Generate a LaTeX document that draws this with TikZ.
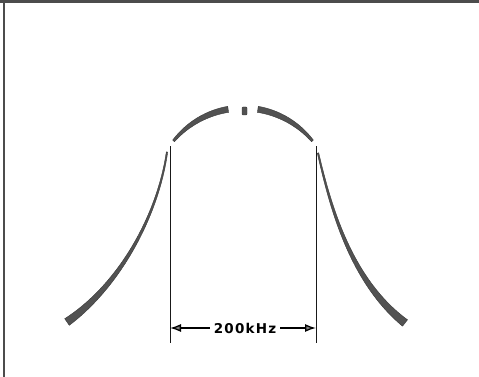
\documentclass[tikz,border=0pt]{standalone}
\usepackage{fontspec}
\newfontfamily\lblfont[LetterSpace=9]{DejaVu Sans Bold}
\usetikzlibrary{arrows.meta,calc}

\begin{document}
\begin{tikzpicture}[x=1pt,y=-1pt,>={Latex[length=11pt,width=8pt,fill=black!50]},
  band/.style={fill=black!68,draw=black!78,line width=0.4pt},
  guide/.style={draw=black!90,line width=0.9pt}]
\useasboundingbox (0,0) rectangle (479,377);
\coordinate (ctr) at (243,193);
\coordinate (ctrin) at (243,203.4);

\draw[black!70,line width=3pt] (0,1.5) -- (479,1.5);
\draw[black!70,line width=2pt] (4,0) -- (4,377);

\coordinate (Ltop) at (170,146);
\coordinate (Lbot) at (170,343);
\coordinate (Rtop) at (316,146);
\coordinate (Rbot) at (316,343);
\draw[guide] (Ltop) -- (Lbot);
\draw[guide] (Rtop) -- (Rbot);

% top of the curve
\fill[band] ($(ctr)+(-143:88)$) arc[start angle=-143,end angle=-100,radius=88]
  -- ($(ctrin)+(-99:92.2)$) arc[start angle=-99,end angle=-138,radius=92.2] -- cycle;
\fill[band] ($(ctr)+(-80:88)$) arc[start angle=-80,end angle=-37,radius=88]
  -- ($(ctrin)+(-42:92.2)$) arc[start angle=-42,end angle=-81,radius=92.2] -- cycle;
\fill[band,rounded corners=1pt] (242,107) rectangle (247,115);

% skirts
\fill[band] (166.3,151.9) .. controls (157.06,214.67) and (118.78,283.96) .. (64.7,318.7)
  -- (69.3,325.3) .. controls (121.22,286.04) and (158.94,215.33) .. (167.7,152.1) -- cycle;
\fill[band] (318.7,152.8) .. controls (330.97,204.76) and (351.68,278.92) .. (407.5,319.8)
  -- (402.5,326.2) .. controls (348.32,281.08) and (329.03,205.24) .. (317.3,153.2) -- cycle;

\coordinate (La) at (170,328);
\coordinate (Ra) at (316,328);
\node[font=\lblfont\fontsize{13.5}{13.5}\selectfont,inner xsep=4pt] (bw) at (245,328) {200kHz};
\draw[->,line width=1.3pt] (bw.west) -- (La);
\draw[->,line width=1.3pt] (bw.east) -- (Ra);
\end{tikzpicture}
\end{document}
